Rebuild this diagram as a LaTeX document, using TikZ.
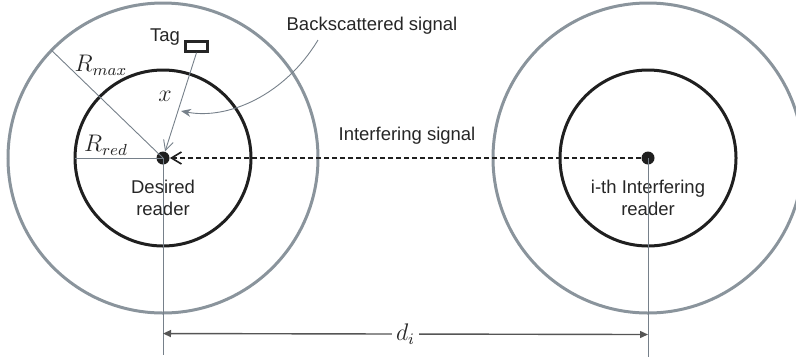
\documentclass[tikz,border=0pt]{standalone}
\usepackage{fontspec}
\setmainfont{Liberation Sans}
\usetikzlibrary{arrows.meta,positioning,calc}
\definecolor{ringgray}{RGB}{138,148,156}
\definecolor{linegray}{RGB}{118,128,138}
\definecolor{dimgray}{RGB}{85,85,85}

\begin{document}
\begin{tikzpicture}[
  x=0.5pt, y=-0.5pt,
  outer ring/.style={draw=ringgray, line width=1.5pt},
  inner ring/.style={draw=black!88, line width=1.5pt},
  reader/.style={circle, fill=black!88, minimum size=6.5pt, inner sep=0pt},
  tagbox/.style={rectangle, draw=black!85, line width=1.2pt, minimum width=11pt, minimum height=5pt, inner sep=0pt},
  guide/.style={draw=linegray, line width=0.45pt},
  lbl/.style={font=\fontsize{9.25}{11}\selectfont, text=black!85, align=center, inner sep=1pt},
  mlbl/.style={font=\fontsize{11.5}{13}\selectfont, text=black!85, inner sep=1pt}
]
\useasboundingbox (0,0) rectangle (796,360);

% readers and their ranges
\node[reader] (desired) at (163,158) {};
\node[reader] (interf) at (648,158) {};
\draw[outer ring] (desired.center) circle[radius=77.5pt];
\draw[inner ring] (desired.center) circle[radius=44pt];
\draw[outer ring] (interf.center) circle[radius=77.5pt];
\draw[inner ring] (interf.center) circle[radius=44pt];

% radii
\coordinate (maxend) at (51.5,50.3);
\coordinate (redend) at (75,158);
\draw[guide] (desired.center) -- (maxend);
\draw[guide] (desired.center) -- (redend);
\node[mlbl] (rmax) at (101,65) {$R_{max}$};
\node[mlbl] (rred) at (106,145) {$R_{red}$};

% tag and backscatter
\node[tagbox] (tag) at (196.5,46.5) {};
\node[lbl] (taglbl) at (165,37) {Tag};
\draw[guide, -{Straight Barb[length=5pt,width=5pt]}] (tag.south) -- (desired);
\node[mlbl] (xlbl) at (165,96) {$x$};
\node[lbl] (backlbl) at (372,26) {Backscattered signal};
\coordinate (bsstart) at (318,40);
\coordinate (bsend) at (181,111);
\draw[guide, -{Stealth[length=5pt,width=4pt]}] (bsstart) .. controls (285,95) and (228,120) .. (bsend);

% interference
\draw[line width=0.8pt, black!88, dash pattern=on 2.5pt off 1.5pt, -{Straight Barb[length=5pt,width=6pt]}] (interf) -- (desired);
\node[lbl] (intlbl) at (407,136) {Interfering signal};
\node[lbl] (deslbl) at (163,198) {Desired\\reader};
\node[lbl] (intrdlbl) at (648,198) {i-th Interfering\\reader};

% distance
\coordinate (dleft) at (163,355);
\coordinate (dright) at (648,357);
\draw[guide] (desired.center) -- (dleft);
\draw[guide] (interf.center) -- (dright);
\draw[draw=dimgray, line width=0.7pt, {Triangle[length=4pt,width=3.5pt]}-{Triangle[length=4pt,width=3.5pt]}]
  ($(desired.center)!0.891!(dleft)$) -- ($(interf.center)!0.887!(dright)$)
  node[midway, fill=white, mlbl, inner sep=2pt] (dlbl) {$d_i$};
\end{tikzpicture}
\end{document}
